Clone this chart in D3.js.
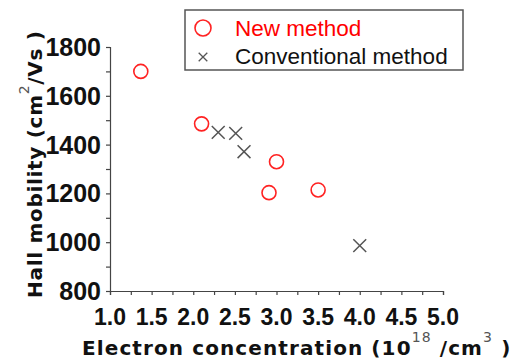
<!DOCTYPE html>
<html>
<head>
<meta charset="utf-8">
<script src="https://cdn.jsdelivr.net/npm/d3@7"></script>
<style>
  body { margin: 0; background: #fff; }
  text { font-family: "Liberation Sans", Arial, sans-serif; }
</style>
</head>
<body>
<div id="chart"></div>
<script>
const WIDTH = 520;
const HEIGHT = 363;

// data
const newX = [1.37, 2.1, 3.0, 2.91, 3.5];
const newY = [1700, 1485, 1330, 1203, 1214];
const convX = [2.3, 2.51, 2.61, 4.0];
const convY = [1450, 1446, 1371, 986];
const xTicks = [1.0, 1.5, 2.0, 2.5, 3.0, 3.5, 4.0, 4.5, 5.0];
const yTicks = [800, 1000, 1200, 1400, 1600, 1800];
const seriesNames = ["New method", "Conventional method"];

let svg = d3.select("#chart")
    .append("svg")
    .attr("width", WIDTH)
    .attr("height", HEIGHT);

let x = d3.scaleLinear().domain([1, 5]).range([110, 443]);
let y = d3.scaleLinear().domain([800, 1800]).range([291, 47]);

// axes
svg.append("g")
    .attr("transform", "translate(0,291)")
    .call(d3.axisBottom(x).tickValues(d3.range(1, 5.01, 0.25)).tickSize(4).tickFormat(""));
svg.append("g")
    .attr("transform", "translate(110,0)")
    .call(d3.axisLeft(y).tickValues(d3.range(800, 1801, 100)).tickSize(4).tickFormat(""));

svg.selectAll(".domain").attr("stroke", "#444").attr("stroke-width", 1.2);
svg.selectAll(".tick line").attr("stroke", "#444").attr("stroke-width", 1.2);

svg.selectAll(".xlab")
    .data(xTicks)
    .enter()
    .append("text")
    .attr("x", d => x(d))
    .attr("y", 325)
    .attr("text-anchor", "middle")
    .style("font-size", "23px")
    .style("font-weight", "bold")
    .style("fill", "#111")
    .text(d => d.toFixed(1));

svg.selectAll(".ylab")
    .data(yTicks)
    .enter()
    .append("text")
    .attr("x", 101)
    .attr("y", d => y(d) + 9)
    .attr("text-anchor", "end")
    .style("font-size", "25px")
    .style("font-weight", "bold")
    .style("fill", "#111")
    .text(d => d);

// axis titles
let xt = svg.append("text")
    .attr("x", 82)
    .attr("y", 355)
    .style("font-family", "'DejaVu Sans', sans-serif")
    .style("font-size", "20px")
    .style("letter-spacing", "1.1px")
    .style("font-weight", "bold")
    .style("fill", "#111");
xt.append("tspan").text("Electron concentration (10");
xt.append("tspan").attr("dy", -13).style("font-size", "14px").style("font-weight", "normal").style("fill", "#555").text("18");
xt.append("tspan").attr("dy", 13).text(" /cm");
xt.append("tspan").attr("dy", -13).style("font-size", "14px").style("font-weight", "normal").style("fill", "#555").text("3");
xt.append("tspan").attr("dy", 13).text(" )");

let yt = svg.append("text")
    .attr("transform", "translate(42,298) rotate(-90)")
    .style("font-family", "'DejaVu Sans', sans-serif")
    .style("font-size", "20px")
    .style("letter-spacing", "0.7px")
    .style("font-weight", "bold")
    .style("fill", "#111");
yt.append("tspan").text("Hall mobility (cm");
yt.append("tspan").attr("dy", -13).style("font-size", "14px").style("font-weight", "normal").style("fill", "#555").text("2");
yt.append("tspan").attr("dy", 13).text("/Vs )");

// points
svg.selectAll(".newpt")
    .data(newX)
    .enter()
    .append("circle")
    .attr("cx", d => x(d))
    .attr("cy", (d, i) => y(newY[i]))
    .attr("r", 7)
    .style("fill", "none")
    .style("stroke", "#f22")
    .style("stroke-width", 1.6);

let cross = d3.symbol().type(d3.symbolX).size(110);
svg.selectAll(".convpt")
    .data(convX)
    .enter()
    .append("path")
    .attr("d", cross)
    .attr("transform", (d, i) => "translate(" + x(d) + "," + y(convY[i]) + ")")
    .style("fill", "none")
    .style("stroke", "#555")
    .style("stroke-width", 1.5);

// legend
svg.append("rect")
    .attr("x", 185)
    .attr("y", 10)
    .attr("width", 278)
    .attr("height", 60)
    .style("fill", "#fff")
    .style("stroke", "#555")
    .style("stroke-width", 1.5);

svg.append("circle")
    .attr("cx", 203)
    .attr("cy", 28)
    .attr("r", 8)
    .style("fill", "none")
    .style("stroke", "#f22")
    .style("stroke-width", 1.6);

svg.append("path")
    .attr("d", d3.symbol().type(d3.symbolX).size(50))
    .attr("transform", "translate(203,57)")
    .style("fill", "none")
    .style("stroke", "#555")
    .style("stroke-width", 1.3);

svg.selectAll(".legtext")
    .data(seriesNames)
    .enter()
    .append("text")
    .attr("x", 235)
    .attr("y", (d, i) => 36 + i * 28)
    .style("font-size", "22.5px")
    .style("fill", (d, i) => i == 0 ? "#f00" : "#111")
    .text(d => d);
</script>
</body>
</html>
